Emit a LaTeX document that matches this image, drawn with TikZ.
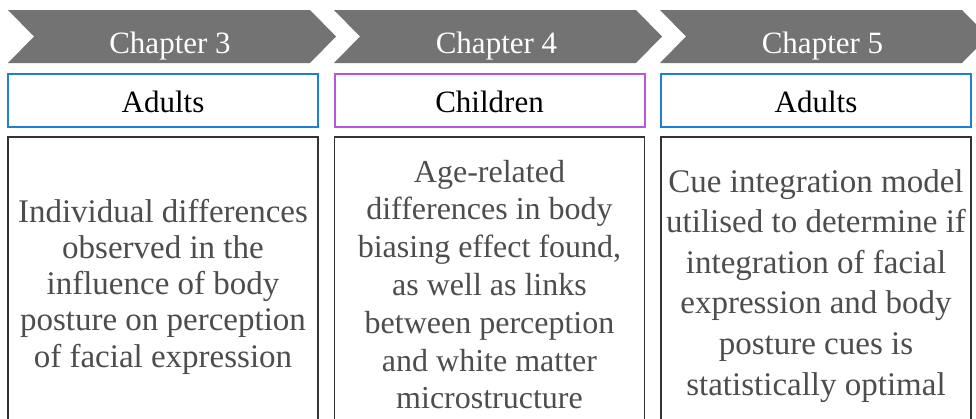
\documentclass[tikz,border=0pt]{standalone}
\usepackage{fontspec}
\setmainfont{Liberation Serif}
\begin{document}
\begin{tikzpicture}[x=1pt,y=-1pt,
  chevron/.style={fill={rgb,255:red,115;green,115;blue,115}},
  chaptext/.style={anchor=base, inner sep=0, font=\fontsize{31}{36}\selectfont, text={rgb,255:red,255;green,255;blue,255}},
  groupbox/.style={draw, line width=2pt, minimum width=310pt, minimum height=53pt, inner sep=0},
  grouptext/.style={anchor=base, inner sep=0, font=\fontsize{31}{36}\selectfont},
  descbox/.style={draw={rgb,255:red,51;green,51;blue,51}, line width=1.2pt, minimum width=310pt, minimum height=294pt, inner sep=0},
  desctext/.style={anchor=base, inner sep=0, text={rgb,255:red,77;green,77;blue,77}}]
\useasboundingbox (0,0) rectangle (976,418);
% chevrons
\fill[chevron] (8,10) -- ++(302,0) -- ++(26,26.5) -- ++(-26,26.5) -- ++(-302,0) -- ++(26,-26.5) -- cycle;
\fill[chevron] (334,10) -- ++(302,0) -- ++(26,26.5) -- ++(-26,26.5) -- ++(-302,0) -- ++(26,-26.5) -- cycle;
\fill[chevron] (660,10) -- ++(302,0) -- ++(26,26.5) -- ++(-26,26.5) -- ++(-302,0) -- ++(26,-26.5) -- cycle;
\node[chaptext] (c3) at (170,53) {Chapter 3};
\node[chaptext] (c4) at (496.5,53) {Chapter 4};
\node[chaptext] (c5) at (822.5,53) {Chapter 5};
% group boxes
\node[groupbox, draw={rgb,255:red,28;green,128;blue,216}] (g1) at (163,100.5) {};
\node[groupbox, draw={rgb,255:red,183;green,87;blue,224}] (g2) at (489.5,100.5) {};
\node[groupbox, draw={rgb,255:red,28;green,128;blue,216}] (g3) at (816,100.5) {};
\node[grouptext] (a1) at (163,112) {Adults};
\node[grouptext] (a2) at (489.5,112) {Children};
\node[grouptext] (a3) at (816,112) {Adults};
% description boxes
\node[descbox] (b1) at (163,284) {};
\node[descbox] (b2) at (489.5,284) {};
\node[descbox] (b3) at (816,284) {};
\node[desctext, font=\fontsize{33}{36.3}\selectfont] (d1) at (163,222)
  {\parbox[t]{310pt}{\centering Individual differences\\observed in the\\influence of body\\posture on perception\\of facial expression}};
\node[desctext, font=\fontsize{32}{37.8}\selectfont] (d2) at (489.5,182)
  {\parbox[t]{310pt}{\centering Age-related\\differences in body\\biasing effect found,\\as well as links\\between perception\\and white matter\\microstructure}};
\node[desctext, font=\fontsize{33}{40.6}\selectfont] (d3) at (816,192)
  {\parbox[t]{310pt}{\centering Cue integration model\\utilised to determine if\\integration of facial\\expression and body\\posture cues is\\statistically optimal}};
\end{tikzpicture}
\end{document}
